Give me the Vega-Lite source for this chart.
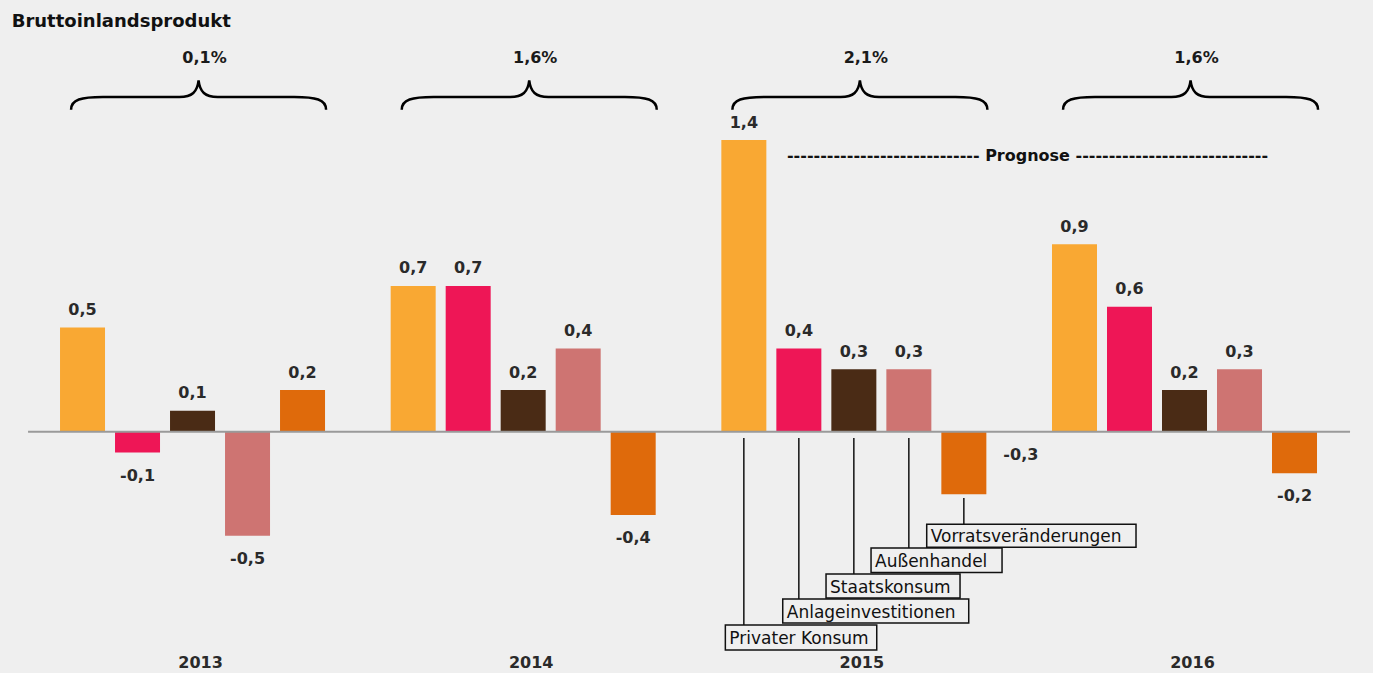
{
  "$schema": "https://vega.github.io/schema/vega-lite/v6.json",
  "width": 1373,
  "height": 673,
  "autosize": {"type": "none"},
  "padding": 0,
  "background": "#efefef",
  "config": {
    "view": {"stroke": null},
    "locale": {"number": {"decimal": ",", "thousands": ".", "grouping": [3], "currency": ["", " €"], "minus": "-"}},
    "text": {"font": "DejaVu Sans"}
  },
  "datasets": {
    "gdp": [
      {"year": "2013", "component": "Privater Konsum", "value": 0.5},
      {"year": "2013", "component": "Anlageinvestitionen", "value": -0.1},
      {"year": "2013", "component": "Staatskonsum", "value": 0.1},
      {"year": "2013", "component": "Außenhandel", "value": -0.5},
      {"year": "2013", "component": "Vorratsveränderungen", "value": 0.2},
      {"year": "2014", "component": "Privater Konsum", "value": 0.7},
      {"year": "2014", "component": "Anlageinvestitionen", "value": 0.7},
      {"year": "2014", "component": "Staatskonsum", "value": 0.2},
      {"year": "2014", "component": "Außenhandel", "value": 0.4},
      {"year": "2014", "component": "Vorratsveränderungen", "value": -0.4},
      {"year": "2015", "component": "Privater Konsum", "value": 1.4},
      {"year": "2015", "component": "Anlageinvestitionen", "value": 0.4},
      {"year": "2015", "component": "Staatskonsum", "value": 0.3},
      {"year": "2015", "component": "Außenhandel", "value": 0.3},
      {"year": "2015", "component": "Vorratsveränderungen", "value": -0.3},
      {"year": "2016", "component": "Privater Konsum", "value": 0.9},
      {"year": "2016", "component": "Anlageinvestitionen", "value": 0.6},
      {"year": "2016", "component": "Staatskonsum", "value": 0.2},
      {"year": "2016", "component": "Außenhandel", "value": 0.3},
      {"year": "2016", "component": "Vorratsveränderungen", "value": -0.2}
    ],
    "growth": [
      {"year": "2013", "growth": 0.001},
      {"year": "2014", "growth": 0.016},
      {"year": "2015", "growth": 0.021},
      {"year": "2016", "growth": 0.016}
    ],
    "callouts": [
      {"year": "2015", "component": "Privater Konsum", "from": -0.03, "to": -0.928},
      {"year": "2015", "component": "Anlageinvestitionen", "from": -0.03, "to": -0.803},
      {"year": "2015", "component": "Staatskonsum", "from": -0.03, "to": -0.683},
      {"year": "2015", "component": "Außenhandel", "from": -0.03, "to": -0.558},
      {"year": "2015", "component": "Vorratsveränderungen", "from": -0.318, "to": -0.445}
    ],
    "boxes": [
      {"year": "2015", "label": "Privater Konsum", "mid": -0.988},
      {"year": "2015", "label": "Anlageinvestitionen", "mid": -0.861},
      {"year": "2015", "label": "Staatskonsum", "mid": -0.741},
      {"year": "2015", "label": "Außenhandel", "mid": -0.617},
      {"year": "2015", "label": "Vorratsveränderungen", "mid": -0.4998}
    ],
    "notes": [
      {"year": "2013", "note": "Bruttoinlandsprodukt", "level": 1.9414},
      {"year": "2015", "note": "----------------------------- Prognose -----------------------------", "level": 1.301}
    ],
    "axisline": [
      {"year": "2014", "level": 0}
    ]
  },
  "layer": [
    {
      "data": {"name": "gdp"},
      "mark": {"type": "bar"},
      "encoding": {
        "x": {"field": "year", "type": "nominal", "axis": null,
              "scale": {"domain": ["2013", "2014", "2015", "2016"], "paddingInner": 0.1683, "paddingOuter": 0.1603, "align": 0.519}},
        "xOffset": {"field": "component", "type": "nominal",
              "scale": {"domain": ["Privater Konsum", "Anlageinvestitionen", "Staatskonsum", "Außenhandel", "Vorratsveränderungen"], "paddingInner": 0.1818, "paddingOuter": 0.0909}},
        "y": {"field": "value", "type": "quantitative", "axis": null,
              "scale": {"domain": [-1.1584, 2.0725], "nice": false, "zero": false}},
        "color": {"field": "component", "type": "nominal", "legend": null,
              "scale": {"domain": ["Privater Konsum", "Anlageinvestitionen", "Staatskonsum", "Außenhandel", "Vorratsveränderungen"],
                        "range": ["#F9A833", "#EE1656", "#4A2B15", "#CE7472", "#DF6A0B"]}}
      }
    },
    {
      "data": {"name": "axisline"},
      "mark": {"type": "point", "filled": false, "stroke": "#9a9a9a", "strokeWidth": 2, "opacity": 1, "size": 1747684, "shape": "M -1 0 H 1"},
      "encoding": {
        "x": {"field": "year", "type": "nominal", "bandPosition": 1.1031},
        "y": {"field": "level", "type": "quantitative"}
      }
    },
    {
      "data": {"name": "gdp"},
      "transform": [{"filter": "datum.value > 0"}],
      "mark": {"type": "text", "font": "DejaVu Sans", "fontWeight": "bold", "fontSize": 16, "color": "#2a2a2a", "baseline": "alphabetic", "dy": -12.5},
      "encoding": {
        "x": {"field": "year", "type": "nominal"},
        "xOffset": {"field": "component", "type": "nominal"},
        "y": {"field": "value", "type": "quantitative"},
        "text": {"field": "value", "type": "quantitative", "format": ".1f"}
      }
    },
    {
      "data": {"name": "gdp"},
      "transform": [{"filter": "datum.value < 0 && !(datum.year == '2015' && datum.component == 'Vorratsveränderungen')"}],
      "mark": {"type": "text", "font": "DejaVu Sans", "fontWeight": "bold", "fontSize": 16, "color": "#2a2a2a", "baseline": "alphabetic", "dy": 28},
      "encoding": {
        "x": {"field": "year", "type": "nominal"},
        "xOffset": {"field": "component", "type": "nominal"},
        "y": {"field": "value", "type": "quantitative"},
        "text": {"field": "value", "type": "quantitative", "format": ".1f"}
      }
    },
    {
      "data": {"name": "gdp"},
      "transform": [{"filter": "datum.year == '2015' && datum.component == 'Vorratsveränderungen'"}],
      "mark": {"type": "text", "font": "DejaVu Sans", "fontWeight": "bold", "fontSize": 16, "color": "#2a2a2a", "baseline": "alphabetic", "dx": 57, "dy": -34},
      "encoding": {
        "x": {"field": "year", "type": "nominal"},
        "xOffset": {"field": "component", "type": "nominal"},
        "y": {"field": "value", "type": "quantitative"},
        "text": {"field": "value", "type": "quantitative", "format": ".1f"}
      }
    },
    {
      "data": {"name": "callouts"},
      "mark": {"type": "rule", "color": "#111111", "strokeWidth": 1.5},
      "encoding": {
        "x": {"field": "year", "type": "nominal"},
        "xOffset": {"field": "component", "type": "nominal"},
        "y": {"field": "from", "type": "quantitative"},
        "y2": {"field": "to"}
      }
    },
    {
      "data": {"name": "boxes"},
      "transform": [{"filter": "datum.label == 'Privater Konsum'"}],
      "mark": {"type": "point", "filled": false, "stroke": "#111111", "strokeWidth": 1.5, "opacity": 1, "size": 22922, "shape": "M -1 -0.1651 H 1 V 0.1651 H -1 Z"},
      "encoding": {"x": {"field": "year", "type": "nominal", "bandPosition": 0.308}, "y": {"field": "mid", "type": "quantitative"}}
    },
    {
      "data": {"name": "boxes"},
      "transform": [{"filter": "datum.label == 'Privater Konsum'"}],
      "mark": {"type": "text", "font": "DejaVu Sans", "fontSize": 17, "color": "#111111", "align": "left", "baseline": "alphabetic", "dx": 4, "dy": 6.5},
      "encoding": {"x": {"field": "year", "type": "nominal", "bandPosition": 0.0327}, "y": {"field": "mid", "type": "quantitative"}, "text": {"field": "label", "type": "nominal"}}
    },
    {
      "data": {"name": "boxes"},
      "transform": [{"filter": "datum.label == 'Anlageinvestitionen'"}],
      "mark": {"type": "point", "filled": false, "stroke": "#111111", "strokeWidth": 1.5, "opacity": 1, "size": 34596, "shape": "M -1 -0.129 H 1 V 0.129 H -1 Z"},
      "encoding": {"x": {"field": "year", "type": "nominal", "bandPosition": 0.5796}, "y": {"field": "mid", "type": "quantitative"}}
    },
    {
      "data": {"name": "boxes"},
      "transform": [{"filter": "datum.label == 'Anlageinvestitionen'"}],
      "mark": {"type": "text", "font": "DejaVu Sans", "fontSize": 17, "color": "#111111", "align": "left", "baseline": "alphabetic", "dx": 4, "dy": 6.5},
      "encoding": {"x": {"field": "year", "type": "nominal", "bandPosition": 0.2415}, "y": {"field": "mid", "type": "quantitative"}, "text": {"field": "label", "type": "nominal"}}
    },
    {
      "data": {"name": "boxes"},
      "transform": [{"filter": "datum.label == 'Staatskonsum'"}],
      "mark": {"type": "point", "filled": false, "stroke": "#111111", "strokeWidth": 1.5, "opacity": 1, "size": 17956, "shape": "M -1 -0.1791 H 1 V 0.1791 H -1 Z"},
      "encoding": {"x": {"field": "year", "type": "nominal", "bandPosition": 0.6425}, "y": {"field": "mid", "type": "quantitative"}}
    },
    {
      "data": {"name": "boxes"},
      "transform": [{"filter": "datum.label == 'Staatskonsum'"}],
      "mark": {"type": "text", "font": "DejaVu Sans", "fontSize": 17, "color": "#111111", "align": "left", "baseline": "alphabetic", "dx": 4, "dy": 6.5},
      "encoding": {"x": {"field": "year", "type": "nominal", "bandPosition": 0.399}, "y": {"field": "mid", "type": "quantitative"}, "text": {"field": "label", "type": "nominal"}}
    },
    {
      "data": {"name": "boxes"},
      "transform": [{"filter": "datum.label == 'Außenhandel'"}],
      "mark": {"type": "point", "filled": false, "stroke": "#111111", "strokeWidth": 1.5, "opacity": 1, "size": 17161, "shape": "M -1 -0.1885 H 1 V 0.1885 H -1 Z"},
      "encoding": {"x": {"field": "year", "type": "nominal", "bandPosition": 0.8007}, "y": {"field": "mid", "type": "quantitative"}}
    },
    {
      "data": {"name": "boxes"},
      "transform": [{"filter": "datum.label == 'Außenhandel'"}],
      "mark": {"type": "text", "font": "DejaVu Sans", "fontSize": 17, "color": "#111111", "align": "left", "baseline": "alphabetic", "dx": 4, "dy": 6.5},
      "encoding": {"x": {"field": "year", "type": "nominal", "bandPosition": 0.5625}, "y": {"field": "mid", "type": "quantitative"}, "text": {"field": "label", "type": "nominal"}}
    },
    {
      "data": {"name": "boxes"},
      "transform": [{"filter": "datum.label == 'Vorratsveränderungen'"}],
      "mark": {"type": "point", "filled": false, "stroke": "#111111", "strokeWidth": 1.5, "opacity": 1, "size": 43806, "shape": "M -1 -0.1099 H 1 V 0.1099 H -1 Z"},
      "encoding": {"x": {"field": "year", "type": "nominal", "bandPosition": 1.1455}, "y": {"field": "mid", "type": "quantitative"}}
    },
    {
      "data": {"name": "boxes"},
      "transform": [{"filter": "datum.label == 'Vorratsveränderungen'"}],
      "mark": {"type": "text", "font": "DejaVu Sans", "fontSize": 17, "color": "#111111", "align": "left", "baseline": "alphabetic", "dx": 4, "dy": 6.5},
      "encoding": {"x": {"field": "year", "type": "nominal", "bandPosition": 0.765}, "y": {"field": "mid", "type": "quantitative"}, "text": {"field": "label", "type": "nominal"}}
    },
    {
      "data": {"name": "growth"},
      "mark": {"type": "point", "filled": false, "stroke": "#000000", "strokeWidth": 2.5, "opacity": 1, "size": 65025,
               "shape": "M -1 0.1 C -1 0.02 -0.92 0 -0.75 0 L -0.15 0 C -0.05 0 -0.01 -0.04 0 -0.13 C 0.01 -0.04 0.05 0 0.15 0 L 0.75 0 C 0.92 0 1 0.02 1 0.1"},
      "encoding": {
        "x": {"field": "year", "type": "nominal", "bandPosition": 0.522},
        "y": {"datum": 1.607, "type": "quantitative"}
      }
    },
    {
      "data": {"name": "growth"},
      "mark": {"type": "text", "font": "DejaVu Sans", "fontWeight": "bold", "fontSize": 16, "color": "#1a1a1a", "baseline": "alphabetic", "dx": 12},
      "encoding": {
        "x": {"field": "year", "type": "nominal"},
        "y": {"datum": 1.77, "type": "quantitative"},
        "text": {"field": "growth", "type": "quantitative", "format": ".1%"}
      }
    },
    {
      "data": {"name": "growth"},
      "mark": {"type": "text", "font": "DejaVu Sans", "fontWeight": "bold", "fontSize": 16, "color": "#2a2a2a", "baseline": "alphabetic", "dx": 8},
      "encoding": {
        "x": {"field": "year", "type": "nominal"},
        "y": {"datum": -1.135, "type": "quantitative"},
        "text": {"field": "year", "type": "nominal"}
      }
    },
    {
      "data": {"name": "notes"},
      "transform": [{"filter": "datum.year == '2015'"}],
      "mark": {"type": "text", "font": "DejaVu Sans", "fontWeight": "bold", "fontSize": 16, "color": "#111111", "baseline": "alphabetic"},
      "encoding": {
        "x": {"field": "year", "type": "nominal", "bandPosition": 1.1316},
        "y": {"field": "level", "type": "quantitative"},
        "text": {"field": "note", "type": "nominal"}
      }
    },
    {
      "data": {"name": "notes"},
      "transform": [{"filter": "datum.year == '2013'"}],
      "mark": {"type": "text", "font": "DejaVu Sans", "fontWeight": "bold", "fontSize": 18, "color": "#111111", "align": "left", "baseline": "alphabetic"},
      "encoding": {
        "x": {"field": "year", "type": "nominal", "bandPosition": -0.1575},
        "y": {"field": "level", "type": "quantitative"},
        "text": {"field": "note", "type": "nominal"}
      }
    }
  ]
}
